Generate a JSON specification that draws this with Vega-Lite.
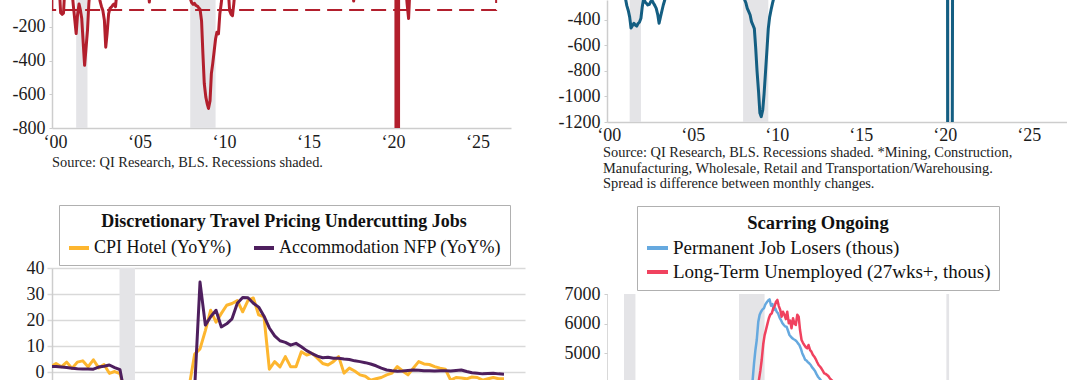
{
  "$schema": "https://vega.github.io/schema/vega-lite/v6.json",
  "background": "white",
  "padding": {"left": 12, "top": 0, "right": 0, "bottom": 0},
  "columns": 2,
  "spacing": {"row": 140, "column": 82},
  "bounds": "flush",
  "align": "all",
  "resolve": {"scale": {"color": "independent"}, "legend": {"color": "independent"}},
  "config": {
    "view": {"stroke": null},
    "font": "Liberation Serif",
    "axis": {"labelFont": "Liberation Serif", "labelFontSize": 18, "labelColor": "#1b1b1b", "domainColor": "#cdcdcd", "domainWidth": 1.5, "tickColor": "#cdcdcd", "title": null, "grid": false, "labelOverlap": false}
  },
  "datasets": {
    "rec": [{"s": 2001.25, "e": 2001.92}, {"s": 2008.0, "e": 2009.5}, {"s": 2020.17, "e": 2020.33}],
    "blrec": [{"s": 12.9, "e": 15.8}],
    "tlbox": [{"x1": 1999.84, "x2": 2026.1, "y1": -100, "y2": 400}],
    "tl": [
      {"t": 2000.0, "v": 30}, {"t": 2000.25, "v": 40}, {"t": 2000.33, "v": -115}, {"t": 2000.42, "v": -125}, {"t": 2000.5, "v": -118}, {"t": 2000.58, "v": 30},
      {"t": 2000.92, "v": 50}, {"t": 2001.0, "v": 20}, {"t": 2001.08, "v": -70}, {"t": 2001.17, "v": -160}, {"t": 2001.25, "v": -239}, {"t": 2001.33, "v": -130},
      {"t": 2001.42, "v": -64}, {"t": 2001.5, "v": -100}, {"t": 2001.58, "v": -150}, {"t": 2001.67, "v": -300}, {"t": 2001.75, "v": -428}, {"t": 2001.83, "v": -330},
      {"t": 2001.92, "v": -221}, {"t": 2002.0, "v": -60}, {"t": 2002.08, "v": 40}, {"t": 2002.5, "v": 40}, {"t": 2002.67, "v": -50}, {"t": 2002.75, "v": -80},
      {"t": 2002.83, "v": -103}, {"t": 2002.92, "v": -160}, {"t": 2003.0, "v": -320}, {"t": 2003.08, "v": -240}, {"t": 2003.17, "v": -123}, {"t": 2003.25, "v": -90},
      {"t": 2003.33, "v": -83}, {"t": 2003.42, "v": -70}, {"t": 2003.5, "v": -64}, {"t": 2003.58, "v": -80}, {"t": 2003.67, "v": 20}, {"t": 2004.0, "v": 50},
      {"t": 2005.5, "v": 40}, {"t": 2005.58, "v": -52}, {"t": 2005.67, "v": 40}, {"t": 2007.92, "v": 40}, {"t": 2008.0, "v": -30}, {"t": 2008.08, "v": -55},
      {"t": 2008.17, "v": -66}, {"t": 2008.25, "v": -60}, {"t": 2008.33, "v": -72}, {"t": 2008.42, "v": -76}, {"t": 2008.5, "v": -86}, {"t": 2008.58, "v": -95},
      {"t": 2008.67, "v": -165}, {"t": 2008.75, "v": -360}, {"t": 2008.83, "v": -536}, {"t": 2008.92, "v": -615}, {"t": 2009.0, "v": -655}, {"t": 2009.08, "v": -684},
      {"t": 2009.17, "v": -640}, {"t": 2009.25, "v": -477}, {"t": 2009.33, "v": -418}, {"t": 2009.42, "v": -340}, {"t": 2009.5, "v": -270}, {"t": 2009.58, "v": -231},
      {"t": 2009.67, "v": -241}, {"t": 2009.75, "v": -123}, {"t": 2009.83, "v": -64}, {"t": 2009.92, "v": 20}, {"t": 2010.17, "v": 40}, {"t": 2010.25, "v": 20},
      {"t": 2010.33, "v": -103}, {"t": 2010.42, "v": -125}, {"t": 2010.5, "v": -133}, {"t": 2010.58, "v": -60}, {"t": 2010.67, "v": 40}, {"t": 2017.58, "v": 40},
      {"t": 2017.67, "v": -46}, {"t": 2017.75, "v": 40}, {"t": 2020.08, "v": 40}, {"t": 2020.17, "v": 30}, {"t": 2020.25, "v": -20000}, {"t": 2020.33, "v": 40},
      {"t": 2020.75, "v": 40}, {"t": 2020.83, "v": -60}, {"t": 2020.92, "v": -150}, {"t": 2021.0, "v": 30}, {"t": 2026.0, "v": 40}
    ],
    "tr": [
      {"t": 2000.0, "v": -100}, {"t": 2000.9, "v": -150}, {"t": 2001.0, "v": -235}, {"t": 2001.08, "v": -290}, {"t": 2001.17, "v": -330}, {"t": 2001.25, "v": -380},
      {"t": 2001.33, "v": -465}, {"t": 2001.42, "v": -445}, {"t": 2001.5, "v": -428}, {"t": 2001.58, "v": -441}, {"t": 2001.67, "v": -450}, {"t": 2001.75, "v": -430},
      {"t": 2001.83, "v": -420}, {"t": 2001.92, "v": -389}, {"t": 2002.0, "v": -298}, {"t": 2002.08, "v": -230}, {"t": 2002.17, "v": -262}, {"t": 2002.25, "v": -272},
      {"t": 2002.33, "v": -285}, {"t": 2002.42, "v": -280}, {"t": 2002.5, "v": -259}, {"t": 2002.58, "v": -250}, {"t": 2002.67, "v": -272}, {"t": 2002.75, "v": -290},
      {"t": 2002.83, "v": -311}, {"t": 2002.92, "v": -360}, {"t": 2003.0, "v": -428}, {"t": 2003.08, "v": -380}, {"t": 2003.17, "v": -330}, {"t": 2003.25, "v": -285},
      {"t": 2003.33, "v": -250}, {"t": 2003.42, "v": -200}, {"t": 2004.0, "v": -80}, {"t": 2007.83, "v": -120}, {"t": 2008.0, "v": -200}, {"t": 2008.08, "v": -240},
      {"t": 2008.17, "v": -270}, {"t": 2008.25, "v": -311}, {"t": 2008.33, "v": -335}, {"t": 2008.42, "v": -363}, {"t": 2008.5, "v": -415}, {"t": 2008.58, "v": -440},
      {"t": 2008.67, "v": -470}, {"t": 2008.75, "v": -620}, {"t": 2008.83, "v": -800}, {"t": 2008.92, "v": -960}, {"t": 2009.0, "v": -1130}, {"t": 2009.08, "v": -1158},
      {"t": 2009.17, "v": -1106}, {"t": 2009.25, "v": -980}, {"t": 2009.33, "v": -820}, {"t": 2009.42, "v": -637}, {"t": 2009.5, "v": -470}, {"t": 2009.58, "v": -380},
      {"t": 2009.67, "v": -320}, {"t": 2009.75, "v": -272}, {"t": 2009.83, "v": -230}, {"t": 2010.0, "v": -120}, {"t": 2020.0, "v": -80}, {"t": 2020.17, "v": -200},
      {"t": 2020.25, "v": -15000}, {"t": 2020.5, "v": 2000}, {"t": 2021.0, "v": 200}, {"t": 2026.0, "v": -50}
    ],
    "bl": [
      {"m": 0, "h": 2.1, "a": 2.2}, {"m": 1, "h": 3.4, "a": 2.2}, {"m": 2, "h": 2.1, "a": 2.0}, {"m": 3, "h": 3.9, "a": 1.8}, {"m": 4, "h": 1.5, "a": 1.6},
      {"m": 5, "h": 3.9, "a": 1.4}, {"m": 6, "h": 4.4, "a": 1.3}, {"m": 7, "h": 2.1, "a": 1.3}, {"m": 8, "h": 4.8, "a": 1.2}, {"m": 9, "h": 1.7, "a": 2.0},
      {"m": 10, "h": 3.0, "a": 2.3}, {"m": 11, "h": -0.4, "a": 2.8}, {"m": 12, "h": 0.3, "a": 1.8}, {"m": 13, "h": -0.5, "a": 1.0}, {"m": 14, "h": -8, "a": -10},
      {"m": 15, "h": -30, "a": -45}, {"m": 16, "h": -40, "a": -50}, {"m": 17, "h": -38, "a": -42}, {"m": 18, "h": -32, "a": -36}, {"m": 19, "h": -28, "a": -33},
      {"m": 20, "h": -26, "a": -32}, {"m": 21, "h": -25, "a": -33}, {"m": 22, "h": -24, "a": -35}, {"m": 23, "h": -22, "a": -36}, {"m": 24, "h": -20, "a": -34},
      {"m": 25, "h": -15, "a": -30}, {"m": 26, "h": -5, "a": -25}, {"m": 27, "h": 7, "a": -6}, {"m": 28, "h": 9, "a": 34.6}, {"m": 29, "h": 16, "a": 18.1},
      {"m": 30, "h": 23.8, "a": 21.3}, {"m": 31, "h": 19.2, "a": 23.8}, {"m": 32, "h": 22.6, "a": 17.4}, {"m": 33, "h": 25.7, "a": 18.6}, {"m": 34, "h": 26.4, "a": 20.5},
      {"m": 35, "h": 27.5, "a": 26.5}, {"m": 36, "h": 23.2, "a": 28.7}, {"m": 37, "h": 27.6, "a": 28.6}, {"m": 38, "h": 28.5, "a": 26.5}, {"m": 39, "h": 22, "a": 25},
      {"m": 40, "h": 21.3, "a": 21.5}, {"m": 41, "h": 1.2, "a": 17}, {"m": 42, "h": 4.1, "a": 14}, {"m": 43, "h": 2.1, "a": 12.1}, {"m": 44, "h": 6, "a": 11.5},
      {"m": 45, "h": 2.1, "a": 10.4}, {"m": 46, "h": 2.1, "a": 11.1}, {"m": 47, "h": 7.9, "a": 9.8}, {"m": 48, "h": 6.6, "a": 8.3}, {"m": 49, "h": 7.3, "a": 7.2},
      {"m": 50, "h": 5.4, "a": 6.2}, {"m": 51, "h": 3.4, "a": 5.6}, {"m": 52, "h": 2.8, "a": 5.8}, {"m": 53, "h": 4.1, "a": 5.4}, {"m": 54, "h": 6, "a": 5.4},
      {"m": 55, "h": -0.3, "a": 5.1}, {"m": 56, "h": 1.6, "a": 4.9}, {"m": 57, "h": 0.5, "a": 4.4}, {"m": 58, "h": -1, "a": 4.1}, {"m": 59, "h": -1.5, "a": 3.7},
      {"m": 60, "h": -3, "a": 3.2}, {"m": 61, "h": -2.5, "a": 2.5}, {"m": 62, "h": -2, "a": 1.6}, {"m": 63, "h": -1, "a": 0.9}, {"m": 64, "h": -0.3, "a": 0.6},
      {"m": 65, "h": 2.2, "a": 0.4}, {"m": 66, "h": 0.5, "a": 0.5}, {"m": 67, "h": -1, "a": 0.7}, {"m": 68, "h": 1.6, "a": 0.9}, {"m": 69, "h": 4.1, "a": 0.8},
      {"m": 70, "h": 3.2, "a": 0.6}, {"m": 71, "h": 3.0, "a": 0.6}, {"m": 72, "h": 2.2, "a": 0.5}, {"m": 73, "h": 1.6, "a": 0.6}, {"m": 74, "h": 1.2, "a": 0.6},
      {"m": 75, "h": -3, "a": 0.5}, {"m": 76, "h": -2, "a": 0.7}, {"m": 77, "h": -2.2, "a": 0.9}, {"m": 78, "h": -2.5, "a": 0.3}, {"m": 79, "h": -1.8, "a": -0.2},
      {"m": 80, "h": -2, "a": -0.4}, {"m": 81, "h": -3, "a": -0.6}, {"m": 82, "h": -2.5, "a": -0.5}, {"m": 83, "h": -2, "a": -0.4}, {"m": 84, "h": -2.5, "a": -0.6},
      {"m": 85, "h": -2.5, "a": -0.7}
    ],
    "brb": [
      {"t": 2007.5, "v": 1800}, {"t": 2008.0, "v": 2300}, {"t": 2008.5, "v": 3300}, {"t": 2008.7, "v": 3800}, {"t": 2008.8, "v": 4100}, {"t": 2008.88, "v": 4658},
      {"t": 2008.96, "v": 5100}, {"t": 2009.04, "v": 5445}, {"t": 2009.13, "v": 6064}, {"t": 2009.21, "v": 6300}, {"t": 2009.29, "v": 6402}, {"t": 2009.38, "v": 6480},
      {"t": 2009.46, "v": 6516}, {"t": 2009.54, "v": 6640}, {"t": 2009.63, "v": 6720}, {"t": 2009.71, "v": 6780}, {"t": 2009.79, "v": 6820}, {"t": 2009.88, "v": 6600},
      {"t": 2009.96, "v": 6662}, {"t": 2010.04, "v": 6459}, {"t": 2010.13, "v": 6516}, {"t": 2010.21, "v": 6400}, {"t": 2010.29, "v": 6347}, {"t": 2010.38, "v": 6200},
      {"t": 2010.46, "v": 6121}, {"t": 2010.54, "v": 6020}, {"t": 2010.63, "v": 5952}, {"t": 2010.71, "v": 5900}, {"t": 2010.79, "v": 5895}, {"t": 2010.88, "v": 5750},
      {"t": 2010.96, "v": 5614}, {"t": 2011.04, "v": 5560}, {"t": 2011.13, "v": 5502}, {"t": 2011.21, "v": 5470}, {"t": 2011.29, "v": 5445}, {"t": 2011.38, "v": 5400},
      {"t": 2011.46, "v": 5330}, {"t": 2011.54, "v": 5276}, {"t": 2011.63, "v": 5150}, {"t": 2011.71, "v": 5000}, {"t": 2011.79, "v": 4900}, {"t": 2011.88, "v": 4780},
      {"t": 2011.96, "v": 4750}, {"t": 2012.04, "v": 4700}, {"t": 2012.13, "v": 4650}, {"t": 2012.21, "v": 4600}, {"t": 2012.29, "v": 4520}, {"t": 2012.38, "v": 4460},
      {"t": 2012.46, "v": 4400}, {"t": 2012.54, "v": 4300}, {"t": 2012.63, "v": 4205}, {"t": 2012.71, "v": 4150}, {"t": 2012.79, "v": 4093}, {"t": 2012.88, "v": 4000},
      {"t": 2013.0, "v": 3900}, {"t": 2014.0, "v": 3000}, {"t": 2016.0, "v": 2000}, {"t": 2019.9, "v": 1300}, {"t": 2020.3, "v": 2300}, {"t": 2020.7, "v": 3700},
      {"t": 2021.5, "v": 2500}, {"t": 2022.5, "v": 1400}, {"t": 2025.8, "v": 1800}
    ],
    "brp": [
      {"t": 2008.5, "v": 2000}, {"t": 2009.0, "v": 3500}, {"t": 2009.17, "v": 4100}, {"t": 2009.25, "v": 4400}, {"t": 2009.33, "v": 4769}, {"t": 2009.42, "v": 5300},
      {"t": 2009.5, "v": 5600}, {"t": 2009.58, "v": 5783}, {"t": 2009.67, "v": 6000}, {"t": 2009.75, "v": 6179}, {"t": 2009.83, "v": 6300}, {"t": 2009.92, "v": 6347},
      {"t": 2010.0, "v": 6500}, {"t": 2010.08, "v": 6571}, {"t": 2010.17, "v": 6741}, {"t": 2010.25, "v": 6800}, {"t": 2010.33, "v": 6600}, {"t": 2010.42, "v": 6459},
      {"t": 2010.5, "v": 6233}, {"t": 2010.58, "v": 6402}, {"t": 2010.67, "v": 6290}, {"t": 2010.75, "v": 6150}, {"t": 2010.83, "v": 6402}, {"t": 2010.92, "v": 6010},
      {"t": 2011.0, "v": 6100}, {"t": 2011.08, "v": 5840}, {"t": 2011.17, "v": 6179}, {"t": 2011.25, "v": 6000}, {"t": 2011.33, "v": 5952}, {"t": 2011.42, "v": 6300},
      {"t": 2011.5, "v": 6233}, {"t": 2011.58, "v": 5783}, {"t": 2011.67, "v": 5445}, {"t": 2011.75, "v": 5350}, {"t": 2011.83, "v": 5276}, {"t": 2011.92, "v": 5200},
      {"t": 2012.0, "v": 5164}, {"t": 2012.08, "v": 5276}, {"t": 2012.17, "v": 5100}, {"t": 2012.25, "v": 5050}, {"t": 2012.33, "v": 4950}, {"t": 2012.42, "v": 4882},
      {"t": 2012.5, "v": 4800}, {"t": 2012.58, "v": 4700}, {"t": 2012.67, "v": 4600}, {"t": 2012.75, "v": 4550}, {"t": 2012.83, "v": 4487}, {"t": 2012.92, "v": 4400},
      {"t": 2013.0, "v": 4318}, {"t": 2013.08, "v": 4300}, {"t": 2013.17, "v": 4262}, {"t": 2013.25, "v": 4220}, {"t": 2013.33, "v": 4149}, {"t": 2013.42, "v": 4100},
      {"t": 2013.5, "v": 4050}, {"t": 2013.75, "v": 3900}, {"t": 2014.0, "v": 3700}, {"t": 2015.0, "v": 2700}, {"t": 2017.0, "v": 1600}, {"t": 2019.9, "v": 1100},
      {"t": 2020.5, "v": 1600}, {"t": 2021.2, "v": 3950}, {"t": 2022.0, "v": 2000}, {"t": 2025.8, "v": 1800}
    ]
  },
  "concat": [
    {
      "width": 459,
      "height": 128,
      "title": {"text": "Source: QI Research, BLS. Recessions shaded.", "orient": "bottom", "anchor": "start", "frame": "group", "font": "Liberation Serif", "fontSize": 14.4, "fontWeight": "normal", "color": "#222222", "offset": 5},
      "layer": [
        {
          "data": {"name": "rec"},
          "mark": {"type": "rect", "color": "#e4e4e7"},
          "encoding": {
            "x": {"field": "s", "type": "quantitative", "scale": {"domain": [1999.82, 2026.98], "nice": false, "zero": false},
                  "axis": {"values": [2000, 2005, 2010, 2015, 2020, 2025], "format": "d", "labelExpr": "'‘' + slice(datum.label, 2)", "ticks": false, "labelPadding": 5, "labelFlush": false}},
            "x2": {"field": "e"}
          }
        },
        {
          "data": {"name": "tlbox"},
          "mark": {"type": "rect", "filled": false, "stroke": "#B21F2D", "strokeWidth": 2, "strokeDash": [15, 7], "clip": true},
          "encoding": {
            "x": {"field": "x1", "type": "quantitative"},
            "x2": {"field": "x2"},
            "y": {"field": "y1", "type": "quantitative"},
            "y2": {"field": "y2"}
          }
        },
        {
          "data": {"name": "tl"},
          "mark": {"type": "line", "color": "#B21F2D", "strokeWidth": 3, "strokeJoin": "round", "clip": true},
          "encoding": {
            "x": {"field": "t", "type": "quantitative"},
            "y": {"field": "v", "type": "quantitative", "scale": {"domain": [-800, -40], "nice": false, "zero": false},
                  "axis": {"values": [-800, -600, -400, -200], "labelExpr": "'' + datum.value", "tickSize": 3, "labelPadding": 4}}
          }
        }
      ]
    },
    {
      "width": 460,
      "height": 122,
      "title": {"text": ["Source: QI Research, BLS. Recessions shaded. *Mining, Construction,", "Manufacturing, Wholesale, Retail and Transportation/Warehousing.", "Spread is difference between monthly changes."], "orient": "bottom", "anchor": "start", "frame": "group", "font": "Liberation Serif", "fontSize": 14.4, "fontWeight": "normal", "color": "#222222", "lineHeight": 15.5, "offset": 2, "dx": -4},
      "layer": [
        {
          "data": {"name": "rec"},
          "mark": {"type": "rect", "color": "#e4e4e7"},
          "encoding": {
            "x": {"field": "s", "type": "quantitative", "scale": {"domain": [1999.9, 2027.28], "nice": false, "zero": false},
                  "axis": {"values": [2000, 2005, 2010, 2015, 2020, 2025], "format": "d", "labelExpr": "'‘' + slice(datum.label, 2)", "ticks": false, "labelPadding": 4, "labelFlush": false}},
            "x2": {"field": "e"}
          }
        },
        {
          "data": {"name": "tr"},
          "mark": {"type": "line", "color": "#145E82", "strokeWidth": 3, "strokeJoin": "round", "clip": true},
          "encoding": {
            "x": {"field": "t", "type": "quantitative"},
            "y": {"field": "v", "type": "quantitative", "scale": {"domain": [-1200, -246], "nice": false, "zero": false},
                  "axis": {"values": [-1200, -1000, -800, -600, -400], "labelExpr": "'' + datum.value", "tickSize": 3, "labelPadding": 4}}
          }
        }
      ]
    },
    {
      "width": 473,
      "height": 112,
      "layer": [
        {
          "data": {"name": "blrec"},
          "mark": {"type": "rect", "color": "#e4e4e7"},
          "encoding": {
            "x": {"field": "s", "type": "quantitative", "scale": {"domain": [0.244, 88.94], "nice": false, "zero": false}, "axis": null},
            "x2": {"field": "e"}
          }
        },
        {
          "data": {"name": "bl"},
          "mark": {"type": "line", "strokeWidth": 3, "strokeJoin": "round", "clip": true},
          "encoding": {
            "x": {"field": "m", "type": "quantitative"},
            "y": {"field": "h", "type": "quantitative", "scale": {"domain": [-2.95, 40], "nice": false, "zero": false},
                  "axis": {"values": [0, 10, 20, 30, 40], "tickCount": 5, "grid": true, "gridColor": "#d9d9d9", "gridWidth": 1.5, "tickSize": 5, "tickColor": "#d9d9d9", "tickWidth": 1.5, "labelPadding": 3}},
            "color": {"datum": "CPI Hotel (YoY%)", "type": "nominal",
                      "scale": {"domain": ["CPI Hotel (YoY%)", "Accommodation NFP (YoY%)"], "range": ["#FDB62F", "#4E1F5E"]},
                      "legend": {"orient": "none", "legendX": 7, "legendY": -63, "direction": "horizontal", "title": "Discretionary Travel Pricing Undercutting Jobs",
                                 "titleFont": "Liberation Serif", "titleFontSize": 18, "titleFontWeight": "bold", "titleColor": "#111111", "titleAnchor": "middle", "titlePadding": 5, "titleLimit": 2000,
                                 "labelFont": "Liberation Serif", "labelFontSize": 18, "labelColor": "#111111", "labelLimit": 2000, "labelOffset": 3,
                                 "symbolType": "stroke", "symbolSize": 400, "symbolStrokeWidth": 4, "columnPadding": 14, "padding": 8, "strokeColor": "#b0b0b0", "fillColor": "white"}}
          }
        },
        {
          "data": {"name": "bl"},
          "mark": {"type": "line", "strokeWidth": 3, "strokeJoin": "round", "clip": true},
          "encoding": {
            "x": {"field": "m", "type": "quantitative"},
            "y": {"field": "a", "type": "quantitative",
                  "axis": {"values": [0, 10, 20, 30, 40], "tickCount": 5, "grid": true, "gridColor": "#d9d9d9", "gridWidth": 1.5, "tickSize": 5, "tickColor": "#d9d9d9", "tickWidth": 1.5, "labelPadding": 3}},
            "color": {"datum": "Accommodation NFP (YoY%)", "type": "nominal"}
          }
        }
      ]
    },
    {
      "width": 460,
      "height": 112,
      "layer": [
        {
          "data": {"name": "rec"},
          "mark": {"type": "rect", "color": "#e4e4e7", "clip": true},
          "encoding": {
            "x": {"field": "s", "type": "quantitative", "scale": {"domain": [2000.25, 2027.25], "nice": false, "zero": false}, "axis": null},
            "x2": {"field": "e"},
            "y": {"datum": 7000, "type": "quantitative", "scale": {"domain": [4093, 7879], "nice": false, "zero": false},
                  "axis": {"values": [5000, 6000, 7000], "labelExpr": "'' + datum.value", "domain": false, "tickSize": 3, "labelPadding": 4}},
            "y2": {"datum": 3000}
          }
        },
        {
          "data": {"values": [{}]},
          "mark": {"type": "rule", "color": "#cdcdcd", "strokeWidth": 1.5, "clip": true},
          "encoding": {
            "x": {"datum": 2000.25, "type": "quantitative"},
            "y": {"datum": 7000, "type": "quantitative"},
            "y2": {"datum": 3000}
          }
        },
        {
          "data": {"name": "brb"},
          "mark": {"type": "line", "strokeWidth": 2.5, "strokeJoin": "round", "clip": true},
          "encoding": {
            "x": {"field": "t", "type": "quantitative"},
            "y": {"field": "v", "type": "quantitative"},
            "color": {"datum": "Permanent Job Losers (thous)", "type": "nominal",
                      "scale": {"domain": ["Permanent Job Losers (thous)", "Long-Term Unemployed (27wks+, thous)"], "range": ["#66A9DF", "#F0425F"]},
                      "legend": {"orient": "none", "legendX": 30, "legendY": -62, "direction": "vertical", "title": "Scarring Ongoing",
                                 "titleFont": "Liberation Serif", "titleFontSize": 18.5, "titleFontWeight": "bold", "titleColor": "#111111", "titleAnchor": "middle", "titlePadding": 3, "titleLimit": 2000,
                                 "labelFont": "Liberation Serif", "labelFontSize": 19, "labelColor": "#111111", "labelLimit": 2000, "labelOffset": 3,
                                 "symbolType": "stroke", "symbolSize": 441, "symbolStrokeWidth": 4, "rowPadding": 1, "padding": 8, "strokeColor": "#b0b0b0", "fillColor": "white"}}
          }
        },
        {
          "data": {"name": "brp"},
          "mark": {"type": "line", "strokeWidth": 2.5, "strokeJoin": "round", "clip": true},
          "encoding": {
            "x": {"field": "t", "type": "quantitative"},
            "y": {"field": "v", "type": "quantitative"},
            "color": {"datum": "Long-Term Unemployed (27wks+, thous)", "type": "nominal"}
          }
        }
      ]
    }
  ]
}
